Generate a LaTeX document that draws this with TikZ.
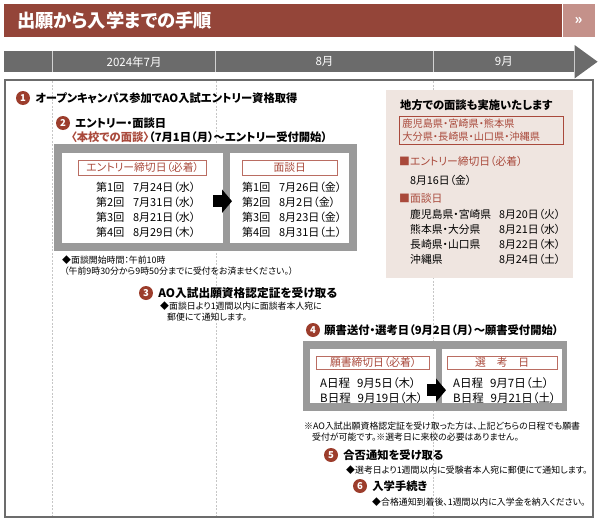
\documentclass[tikz,border=0pt]{standalone}
\usepackage{fontspec}
\setmainfont[RawFeature=+palt]{Noto Sans CJK JP}
\usepackage{xcolor}
\usepackage{tikz}
\usetikzlibrary{positioning,arrows.meta,calc}

\definecolor{titlered}{HTML}{944539}
\definecolor{titlelight}{HTML}{C4918A}
\definecolor{stepred}{HTML}{9C3D2C}
\definecolor{labelred}{HTML}{A9493B}
\definecolor{bargray}{HTML}{6B6B6B}
\definecolor{boxgray}{HTML}{9A9A9A}
\definecolor{panelpink}{HTML}{EFE5E0}

\begin{document}
\begin{tikzpicture}[
    x=1pt, y=-1pt,
    cell/.style={fill=bargray, minimum height=21pt, inner sep=0pt, text=white,
                 font=\fontsize{11.5}{11.5}\selectfont},
    divider/.style={draw=gray!35, line width=0.8pt},
    frame/.style={draw=gray!85!black, line width=1.3pt},
    guide/.style={draw=gray!45, line width=0.6pt, dash pattern=on 2pt off 1.5pt},
    stepnum/.style={circle, fill=stepred, text=white, inner sep=0pt, minimum size=14pt,
                    font=\bfseries\fontsize{9.5}{9.5}\selectfont},
    steptext/.style={anchor=west, inner sep=0pt, font=\bfseries\fontsize{11.3}{13}\selectfont},
    graybg/.style={fill=boxgray, anchor=north west, inner sep=0pt},
    whitebox/.style={fill=white, anchor=north west, inner sep=0pt},
    datelabel/.style={draw=labelred!80, line width=0.7pt, text=labelred, inner sep=0pt,
                      minimum height=15pt, font=\fontsize{10.8}{10.8}\selectfont},
    rowtext/.style={anchor=west, inner sep=0pt, font=\fontsize{11}{12}\selectfont},
    note/.style={anchor=west, inner sep=0pt, font=\fontsize{8.9}{10}\selectfont},
    paneltext/.style={anchor=west, inner sep=0pt, font=\fontsize{10.8}{12}\selectfont},
    blockarr/.style={-{Triangle[width=23pt,length=10pt]}, line width=12pt, black},
  ]
  \useasboundingbox (0,0) rectangle (600,522);

  % Title bar
  \node[fill=titlered, anchor=north west, minimum width=558pt, minimum height=33pt,
        inner sep=0pt] (title) at (4,4) {};
  \node[anchor=west, inner sep=0pt, text=white, font=\bfseries\fontsize{18.3}{20}\selectfont]
        (titletext) at (17,20.5) {出願から入学までの手順};
  \node[fill=titlelight, minimum width=32pt, minimum height=33pt, inner sep=0pt, text=white,
        font=\bfseries\fontsize{14}{14}\selectfont, right=0pt of title] (titlemore) {»};

  % Timeline
  \node[cell, anchor=north west, minimum width=48pt] (cell0) at (4,51) {};
  \node[cell, minimum width=163pt, right=0pt of cell0] (cell7) {2024年7月};
  \node[cell, minimum width=217pt, right=0pt of cell7] (cell8) {8月};
  \node[cell, minimum width=141pt, right=0pt of cell8] (cell9) {9月};
  \fill[bargray] (cell9.north east) -- ++(0,-6) -- ($(cell9.east)+(23,0)$)
    -- ($(cell9.south east)+(0,6)$) -- (cell9.south east) -- cycle;
  \foreach \c in {cell0,cell7,cell8}
    \draw[divider] (\c.north east) -- (\c.south east);

  % Frame and month guides
  \draw[frame] (5,80) rectangle (593,517);
  \foreach \c in {cell0,cell7,cell8}
    \draw[guide] (\c.east |- 0,81) -- (\c.east |- 0,516);

  % Regional interviews
  \node[fill=panelpink, anchor=north west, minimum width=187pt, minimum height=188pt,
        inner sep=0pt] (panel) at (386,90) {};
  \node[paneltext, font=\bfseries\fontsize{11.3}{12}\selectfont] (paneltitle) at (400,105)
        {地方での面談も実施いたします};
  \node[draw=labelred, line width=0.7pt, text=labelred, anchor=north west, align=left,
        text width=158pt, inner xsep=3pt, inner ysep=0pt, minimum height=28pt,
        font=\fontsize{10.2}{13}\selectfont] (region) at (399,116)
        {鹿児島県・宮崎県・熊本県\\大分県・長崎県・山口県・沖縄県};
  \node[paneltext, text=labelred] (paneldl) at (399,161) {■エントリー締切日（必着）};
  \node[paneltext] (paneldldate) at (410,180) {8月16日（金）};
  \node[paneltext, text=labelred] (panelmtg) at (399,198) {■面談日};
  \foreach \p/\d [count=\i] in {鹿児島県・宮崎県/8月20日（火）, 熊本県・大分県/8月21日（水）,
                                長崎県・山口県/8月22日（木）, 沖縄県/8月24日（土）} {
    \node[paneltext] (pref\i) at (410,199+15*\i) {\p};
    \node[paneltext] (prefdate\i) at (499,199+15*\i) {\d};
  }

  % Step 1
  \node[stepnum] (step1) at (23,98) {1};
  \node[steptext, right=5pt of step1] (step1text) {オープンキャンパス参加でAO入試エントリー資格取得};

  % Step 2
  \node[stepnum] (step2) at (63,123) {2};
  \node[steptext, right=5pt of step2] (step2text) {エントリー・面談日};
  \node[steptext] (step2sub) at (71,137)
        {\textcolor{labelred}{〈本校での面談〉}（7月1日（月）〜エントリー受付開始）};

  \node[graybg, minimum width=303pt, minimum height=107pt] (entrybg) at (54,144) {};
  \node[whitebox, minimum width=161pt, minimum height=90pt] (entrybox) at (62,153) {};
  \node[whitebox, minimum width=119pt, minimum height=90pt] (mtgbox) at (230,153) {};
  \node[datelabel, minimum width=128pt, below=7pt of entrybox.north] (entrylabel)
        {エントリー締切日（必着）};
  \node[datelabel, minimum width=95pt, below=7pt of mtgbox.north] (mtglabel) {面談日};
  \foreach \n/\d [count=\i] in {1/7月24日（水）, 2/7月31日（水）, 3/8月21日（水）, 4/8月29日（木）}
    \node[rowtext] (entry\i) at (96,172+15*\i) {第{\n}回\hspace{0.8em}\d};
  \foreach \n/\d [count=\i] in {1/7月26日（金）, 2/8月2日（金）, 3/8月23日（金）, 4/8月31日（土）}
    \node[rowtext] (mtg\i) at (242,172+15*\i) {第{\n}回\hspace{0.8em}\d};
  \draw[blockarr] ([xshift=-10pt,yshift=-3pt]entrybox.east) -- ([xshift=2pt,yshift=-3pt]mtgbox.west);

  \node[note] (note1) at (62,260) {◆面談開始時間：午前10時};
  \node[note] (note1b) at (64,271) {（午前9時30分から9時50分までに受付をお済ませください。）};

  % Step 3
  \node[stepnum] (step3) at (146,293) {3};
  \node[steptext, font=\bfseries\fontsize{11.7}{13}\selectfont, right=5pt of step3]
        (step3text) {AO入試出願資格認定証を受け取る};
  \node[note] (note3) at (160,306) {◆面談日より1週間以内に面談者本人宛に};
  \node[note] (note3b) at (167,317) {郵便にて通知します。};

  % Step 4
  \node[stepnum] (step4) at (313,330) {4};
  \node[steptext, right=4pt of step4] (step4text) {願書送付・選考日（9月2日（月）〜願書受付開始）};

  \node[graybg, minimum width=264pt, minimum height=70pt] (appbg) at (303,341) {};
  \node[whitebox, minimum width=126pt, minimum height=54pt] (appbox) at (310,349) {};
  \node[whitebox, minimum width=120pt, minimum height=54pt] (selbox) at (442,349) {};
  \node[datelabel, minimum width=113pt, minimum height=13pt, below=7pt of appbox.north]
        (applabel) {願書締切日（必着）};
  \node[datelabel, minimum width=110pt, minimum height=13pt, below=7pt of selbox.north]
        (sellabel) {選　考　日};
  \foreach \n/\d [count=\i] in {A/9月5日（木）, B/9月19日（木）}
    \node[rowtext, font=\fontsize{11.5}{12}\selectfont] (app\i) at (320,368+15*\i) {{\n}日程\hspace{0.6em}\d};
  \foreach \n/\d [count=\i] in {A/9月7日（土）, B/9月21日（土）}
    \node[rowtext, font=\fontsize{11.5}{12}\selectfont] (sel\i) at (453,368+15*\i) {{\n}日程\hspace{0.6em}\d};
  \draw[blockarr] ([xshift=-9pt,yshift=-14pt]appbox.east) -- ([xshift=4pt,yshift=-14pt]selbox.west);

  \node[note] (note4) at (304,426) {※AO入試出願資格認定証を受け取った方は、上記どちらの日程でも願書};
  \node[note] (note4b) at (312,437) {受付が可能です。※選考日に来校の必要はありません。};

  % Step 5
  \node[stepnum] (step5) at (331,455) {5};
  \node[steptext, right=5pt of step5] (step5text) {合否通知を受け取る};
  \node[note] (note5) at (346,470) {◆選考日より1週間以内に受験者本人宛に郵便にて通知します。};

  % Step 6
  \node[stepnum] (step6) at (360,486) {6};
  \node[steptext, right=5pt of step6] (step6text) {入学手続き};
  \node[note] (note6) at (372,502) {◆合格通知到着後、1週間以内に入学金を納入ください。};
\end{tikzpicture}
\end{document}
